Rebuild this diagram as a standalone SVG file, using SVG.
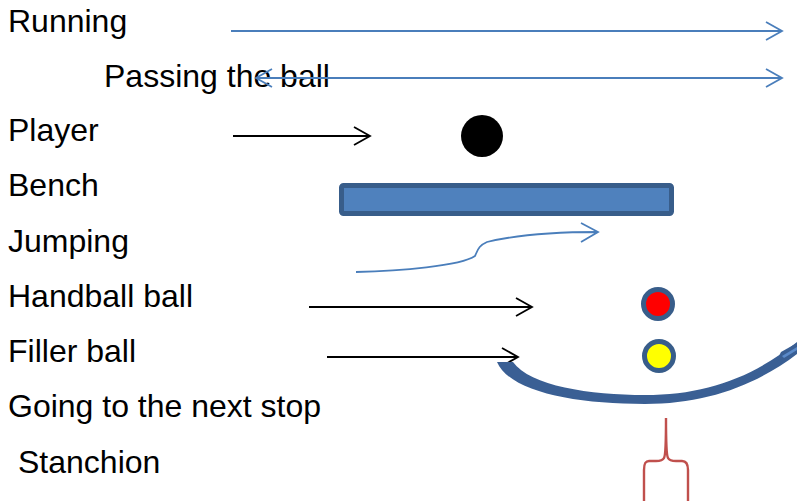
<svg xmlns="http://www.w3.org/2000/svg" width="797" height="501" viewBox="0 0 797 501">
  <style>
    .lbl { font-family: "Liberation Sans", Arial, sans-serif; font-size: 32px; fill: #000; }
    .blue { stroke: #4A7EBB; stroke-width: 1.8; fill: none; }
    .black { stroke: #000; stroke-width: 1.8; fill: none; }
    .ball { stroke: #385D8A; stroke-width: 5; }
  </style>
  <rect width="797" height="501" fill="#fff"/>

  <!-- legend labels -->
  <g id="labels">
    <text class="lbl" x="8" y="32">Running</text>
    <text class="lbl" x="104" y="87">Passing the ball</text>
    <text class="lbl" x="8" y="141">Player</text>
    <text class="lbl" x="8" y="196">Bench</text>
    <text class="lbl" x="8" y="251.5">Jumping</text>
    <text class="lbl" x="8" y="306.5">Handball ball</text>
    <text class="lbl" x="8" y="362">Filler ball</text>
    <text class="lbl" x="8" y="417">Going to the next stop</text>
    <text class="lbl" x="18" y="472.5">Stanchion</text>
  </g>

  <!-- connectors / legend arrows -->
  <g id="connectors">
    <!-- running -->
    <path class="blue" d="M231,31 H782 M766,22 L782,31 L766,40"/>
    <!-- passing the ball (double-headed) -->
    <path class="blue" d="M256,78 H782 M766,69 L782,78 L766,87 M272,69 L256,78 L272,87"/>
    <!-- player -->
    <path class="black" d="M233,136 H370 M354,127 L370,136 L354,145"/>
    <!-- jumping -->
    <path class="blue" d="M356,272 C400,271 460,266 475,256 C478,250 478,246 487,242 C520,234 560,232 598,232 M581,223 L598,232 L581,242"/>
    <!-- handball ball -->
    <path class="black" d="M309,307 H532 M516,298 L532,307 L516,316"/>
    <!-- filler ball -->
    <path class="black" d="M327,357 H518 M502,348 L518,357 L502,366"/>
  </g>

  <g id="player">
    <circle cx="482" cy="136" r="21" fill="#000"/>
  </g>

  <g id="bench">
    <rect x="341.5" y="185.5" width="330" height="28" rx="2" fill="#4F81BD" stroke="#385D8A" stroke-width="5"/>
  </g>

  <g id="handball-ball">
    <circle class="ball" cx="658" cy="304" r="14.5" fill="#FF0000"/>
  </g>

  <g id="filler-ball">
    <circle class="ball" cx="659" cy="356" r="14.5" fill="#FFFF00"/>
  </g>

  <!-- curved arrow for going to the next stop -->
  <g id="next-stop">
    <path d="M497,362 L513,362 C530,386 590,395 645,395 C705,395 752,378 797,342 L797,354 C755,386 705,404 645,404 C575,404 510,392 497,362 Z" fill="#3A5F94"/>
    <path d="M776,362 L781,352 L797,343 L797,352 Z" fill="#3A5F94"/>
    <path d="M782,356 L797,347 L797,350 L784,358 Z" fill="#5B8AC9"/>
  </g>

  <!-- stanchion -->
  <g id="stanchion">
    <path d="M666,418 C666,440 666,455 664,458 C663,460 660,461 656,461 L649,461 C645,461 644,464 644,470 V501 M666,418 C666,440 666,455 668,458 C669,460 672,461 676,461 L682,461 C686,461 688,464 688,470 V501" fill="none" stroke="#C0504D" stroke-width="2.4"/>
  </g>
</svg>
